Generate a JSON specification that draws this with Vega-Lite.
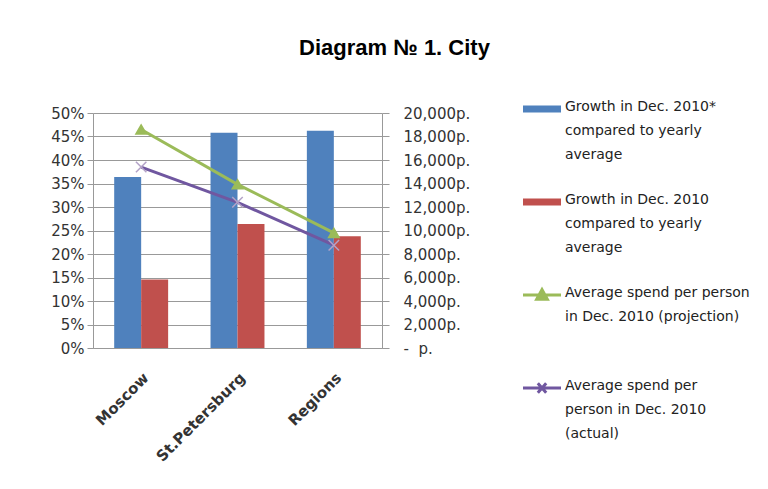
{
  "$schema": "https://vega.github.io/schema/vega-lite/v6.json",
  "width": 289,
  "height": 235,
  "padding": {"left": 50, "top": 37, "right": 5, "bottom": 5},
  "background": "white",
  "title": {
    "text": "Diagram № 1. City",
    "font": "Liberation Sans",
    "fontSize": 22,
    "fontWeight": "bold",
    "color": "#000000",
    "anchor": "middle",
    "offset": 42,
    "dx": 157
  },
  "config": {
    "view": {"stroke": null},
    "axis": {
      "labelFont": "DejaVu Sans",
      "labelFontSize": 15,
      "labelColor": "#333333",
      "domainColor": "#999999",
      "tickColor": "#999999",
      "gridColor": "#999999",
      "labelOverlap": false,
      "title": null
    }
  },
  "datasets": {
    "bars": [
      {"city": "Moscow", "series": "Growth in Dec. 2010* compared to yearly average", "value": 0.364},
      {"city": "Moscow", "series": "Growth in Dec. 2010 compared to yearly average", "value": 0.146},
      {"city": "St.Petersburg", "series": "Growth in Dec. 2010* compared to yearly average", "value": 0.458},
      {"city": "St.Petersburg", "series": "Growth in Dec. 2010 compared to yearly average", "value": 0.264},
      {"city": "Regions", "series": "Growth in Dec. 2010* compared to yearly average", "value": 0.462},
      {"city": "Regions", "series": "Growth in Dec. 2010 compared to yearly average", "value": 0.238}
    ],
    "lines": [
      {"city": "Moscow", "series": "Average spend per person in Dec. 2010 (projection)", "spend": 18600},
      {"city": "St.Petersburg", "series": "Average spend per person in Dec. 2010 (projection)", "spend": 13930},
      {"city": "Regions", "series": "Average spend per person in Dec. 2010 (projection)", "spend": 9800},
      {"city": "Moscow", "series": "Average spend per person in Dec. 2010 (actual)", "spend": 15400},
      {"city": "St.Petersburg", "series": "Average spend per person in Dec. 2010 (actual)", "spend": 12400},
      {"city": "Regions", "series": "Average spend per person in Dec. 2010 (actual)", "spend": 8750}
    ]
  },
  "layer": [
    {
      "data": {"name": "bars"},
      "mark": {"type": "bar"},
      "encoding": {
        "x": {
          "field": "city",
          "type": "nominal",
          "sort": null,
          "scale": {"paddingInner": 0.44, "paddingOuter": 0.22},
          "axis": {"labelAngle": -45, "ticks": false, "labelPadding": 22, "grid": false, "labelFontWeight": "bold", "labelFontSize": 15, "labelColor": "#333333"}
        },
        "xOffset": {
          "field": "series",
          "type": "nominal",
          "sort": null,
          "scale": {"paddingInner": 0, "paddingOuter": 0, "domain": ["Growth in Dec. 2010* compared to yearly average", "Growth in Dec. 2010 compared to yearly average"]}
        },
        "y": {
          "field": "value",
          "type": "quantitative",
          "scale": {"domain": [0, 0.5]},
          "axis": {
            "orient": "left",
            "format": ".0%",
            "values": [0, 0.05, 0.1, 0.15, 0.2, 0.25, 0.3, 0.35, 0.4, 0.45, 0.5],
            "grid": true,
            "tickSize": 6,
            "labelPadding": 3,
            "labelOverlap": false
          }
        },
        "color": {
          "field": "series",
          "type": "nominal",
          "scale": {
            "domain": [
              "Growth in Dec. 2010* compared to yearly average",
              "Growth in Dec. 2010 compared to yearly average",
              "Average spend per person in Dec. 2010 (projection)",
              "Average spend per person in Dec. 2010 (actual)"
            ],
            "range": ["#4F81BD", "#C0504D", "#9BBB59", "#7057A0"]
          },
          "legend": {
            "orient": "none",
            "legendX": 442,
            "legendY": -11,
            "title": null,
            "labelFont": "DejaVu Sans",
            "labelFontSize": 14,
            "labelColor": "#222222",
            "labelLimit": 400,
            "labelOffset": 16,
            "labelBaseline": "top",
            "gridAlign": "all",
            "rowPadding": 28,
            "symbolSize": 1444,
            "labelExpr": "datum.index == 0 ? ['Growth in Dec. 2010*', 'compared to yearly', 'average'] : datum.index == 1 ? ['Growth in Dec. 2010', 'compared to yearly', 'average'] : datum.index == 2 ? ['Average spend per person', 'in Dec. 2010 (projection)'] : ['Average spend per', 'person in Dec. 2010', '(actual)']",
            "encode": {
              "labels": {"update": {"lineHeight": {"value": 24}, "dy": {"value": -9}}},
              "symbols": {
                "update": {
                  "shape": {"signal": "datum.index < 2 ? 'M-1,-0.18H1V0.18H-1Z' : datum.index == 2 ? 'M-1,0H1M-0.28,0.22L0,-0.28L0.28,0.22Z' : 'M-1,0H1M-0.22,-0.25L0.22,0.25M-0.22,0.25L0.22,-0.25'"},
                  "size": {"value": 1444},
                  "strokeWidth": {"signal": "datum.index < 2 ? 0 : 3"},
                  "fill": {"scale": "color", "field": "value"},
                  "stroke": {"scale": "color", "field": "value"},
                  "opacity": {"value": 1},
                  "fillOpacity": {"value": 1},
                  "strokeOpacity": {"value": 1}
                }
              }
            }
          }
        }
      }
    },
    {
      "data": {"name": "lines"},
      "encoding": {
        "x": {"field": "city", "type": "nominal", "sort": null},
        "y": {
          "field": "spend",
          "type": "quantitative",
          "scale": {"domain": [0, 20000]},
          "axis": {
            "orient": "right",
            "values": [0, 2000, 4000, 6000, 8000, 10000, 12000, 14000, 16000, 18000, 20000],
            "grid": false,
            "tickSize": 7,
            "labelPadding": 14,
            "labelOverlap": false,
            "labelExpr": "datum.value == 0 ? '-\u00a0\u00a0р.' : format(datum.value, ',') + 'р.'"
          }
        },
        "color": {"field": "series", "type": "nominal"}
      },
      "layer": [
        {
          "mark": {"type": "line", "strokeWidth": 3}
        },
        {
          "mark": {"type": "point", "filled": true, "size": 110, "strokeWidth": 1.5, "opacity": 1},
          "encoding": {
            "shape": {
              "field": "series",
              "type": "nominal",
              "scale": {
                "domain": ["Average spend per person in Dec. 2010 (projection)", "Average spend per person in Dec. 2010 (actual)"],
                "range": ["triangle-up", "M-1,-1L1,1M-1,1L1,-1"]
              },
              "legend": null
            },
            "stroke": {
              "field": "series",
              "type": "nominal",
              "scale": {
                "domain": ["Average spend per person in Dec. 2010 (projection)", "Average spend per person in Dec. 2010 (actual)"],
                "range": ["#9BBB59", "#B3A2C7"]
              },
              "legend": null
            }
          }
        }
      ]
    }
  ],
  "resolve": {"scale": {"y": "independent"}}
}
